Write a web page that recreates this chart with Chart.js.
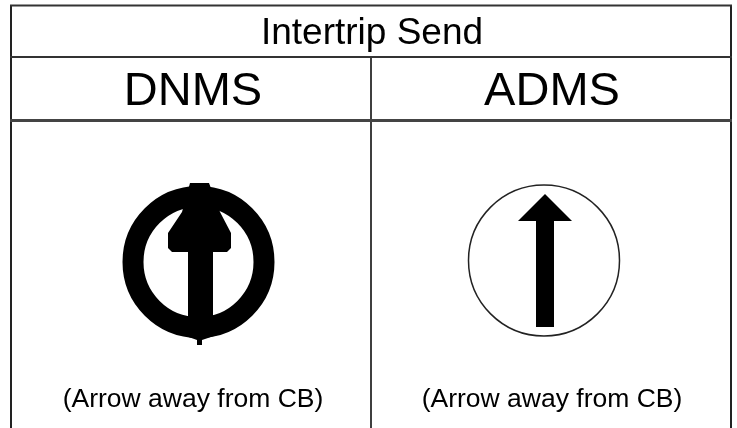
<!DOCTYPE html>
<html>
<head>
<meta charset="utf-8">
<style>
  html, body { margin: 0; padding: 0; background: #fff; }
  #wrap { width: 737px; height: 428px; }
</style>
<script src="https://cdn.jsdelivr.net/npm/chart.js@4"></script>
</head>
<body>
<div id="wrap"><canvas id="chart"></canvas></div>
<script>
// table rules, in the units of the two axes
const ruleTop = [[10, 5.5], [732, 5.5]];
const ruleHeader = [[10, 57], [732, 57]];
const ruleColumns = [[10, 120.5], [732, 120.5]];
const ruleLeft = [[11, 5], [11, 428]];
const ruleMiddle = [[371, 57], [371, 428]];
const ruleRight = [[731, 5], [731, 428]];

const arrowDnms = [[190, 183], [209, 183], [220, 212], [231, 233], [231, 248], [227, 252], [213, 252], [213, 330], [217, 335], [202, 340], [202, 345], [197, 345], [197, 340], [183, 335], [188, 330], [188, 252], [172, 252], [168, 248], [168, 233], [182, 212], [190, 183]];
const arrowAdms = [[545, 194], [572, 221], [554, 221], [554, 327], [536, 327], [536, 221], [518, 221], [545, 194]];

const circleDnms = [[198.5, 262]];
const circleAdms = [[544, 260.5]];

const labels = ['Intertrip Send', 'DNMS', 'ADMS', '(Arrow away from CB)', '(Arrow away from CB)'];
const labelPoints = [[372, 33.5], [193, 92], [552, 92], [193, 400], [552, 400]];
const labelSizes = [37, 47, 47, 26.5, 26.5];

const toPoints = list => list.map(p => ({ x: p[0], y: p[1] }));

function rule(list, width, color) {
  return { data: toPoints(list), showLine: true, borderColor: color, borderWidth: width, pointRadius: 0, fill: false };
}

function shape(list) {
  return { data: toPoints(list), showLine: true, borderWidth: 0, backgroundColor: '#000', pointRadius: 0, fill: 'shape' };
}

function ring(list, radius, width, color) {
  return { data: toPoints(list), showLine: false, pointRadius: radius, pointBorderWidth: width, pointBorderColor: color, pointBackgroundColor: '#fff' };
}

const textLabels = {
  id: 'textLabels',
  afterDatasetsDraw(chart) {
    const c = chart.ctx;
    c.save();
    c.fillStyle = '#000';
    c.textAlign = 'center';
    c.textBaseline = 'middle';
    labels.forEach((t, i) => {
      c.font = labelSizes[i] + 'px "Liberation Sans"';
      c.fillText(t, chart.scales.x.getPixelForValue(labelPoints[i][0]), chart.scales.y.getPixelForValue(labelPoints[i][1]));
    });
    c.restore();
  }
};

new Chart(document.getElementById('chart'), {
  type: 'scatter',
  data: {
    // Chart.js paints the last dataset first, so arrows come before their rings
    datasets: [
      shape(arrowDnms),
      ring(circleDnms, 65.5, 21, '#000'),
      shape(arrowAdms),
      ring(circleAdms, 75.5, 1.5, '#222'),
      rule(ruleTop, 2, '#333'),
      rule(ruleHeader, 2, '#333'),
      rule(ruleColumns, 3, '#444'),
      rule(ruleLeft, 2, '#222'),
      rule(ruleMiddle, 1.5, '#000'),
      rule(ruleRight, 2, '#222')
    ]
  },
  options: {
    responsive: true,
    maintainAspectRatio: false,
    animation: false,
    layout: { padding: 0, autoPadding: false },
    plugins: {
      legend: { display: false },
      tooltip: { enabled: false },
      filler: { drawTime: 'beforeDatasetDraw' }
    },
    scales: {
      x: { type: 'linear', display: false, min: 0, max: 737 },
      y: { type: 'linear', display: false, min: 0, max: 428, reverse: true }
    }
  },
  plugins: [textLabels]
});
</script>
</body>
</html>
